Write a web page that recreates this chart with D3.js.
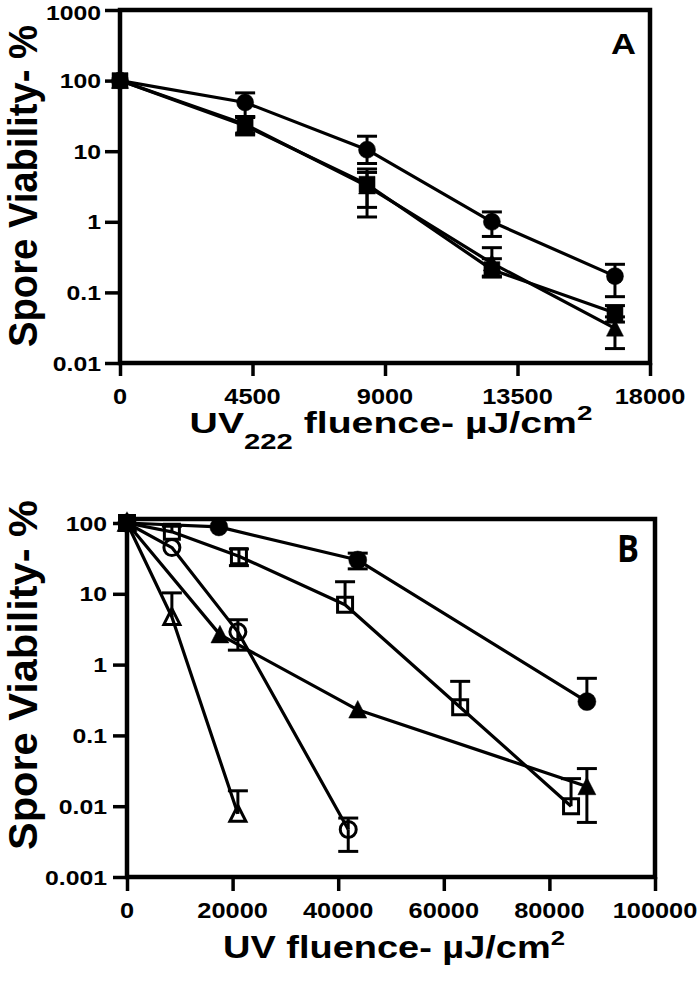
<!DOCTYPE html>
<html><head><meta charset="utf-8">
<script src="https://cdn.jsdelivr.net/npm/d3@7"></script>
<style>html,body{margin:0;padding:0;background:#fff;}svg{display:block;}</style>
</head><body>
<svg id="chart" width="700" height="984"></svg>
<script>
// ---------------- DATA ----------------
// Panel A (UV222)
const A_fluence = [0, 4250, 8390, 12630, 16810];
const A_circle     = [100, 49, 10.5, 1.0, 0.17];
const A_circleHi   = [null, 67, 16.3, 1.38, 0.25];
const A_circleLo   = [null, 31, 6.7, 0.62, 0.087];
const A_square     = [100, 23, 3.4, 0.21, 0.051];
const A_squareHi   = [null, 31, 5.6, 0.30, 0.065];
const A_squareLo   = [null, 17, 1.17, 0.165, 0.038];
const A_triangle   = [100, 24, 3.2, 0.26, 0.031];
const A_triangleHi = [null, 30, 5.0, 0.43, 0.045];
const A_triangleLo = [null, 18, 1.6, 0.17, 0.016];
const A_xTicks = [0, 4500, 9000, 13500, 18000];
const A_xTickLabels = ["0", "4500", "9000", "13500", "18000"];
const A_yTicks = [0.01, 0.1, 1, 10, 100, 1000];
const A_yTickLabels = ["0.01", "0.1", "1", "10", "100", "1000"];

// Panel B (UV)
const B_fillCircleX  = [0, 17400, 43700, 87100];
const B_fillCircle   = [100, 88, 30, 0.30];
const B_fillCircleHi = [null, null, 37.5, 0.64];
const B_fillCircleLo = [null, null, 22.5, null];
const B_openSquareX  = [0, 8500, 21200, 41300, 63100, 84100];
const B_openSquare   = [100, 75, 34, 7.0, 0.25, 0.010];
const B_openSquareHi = [null, 90, 43, 14.8, 0.58, 0.0245];
const B_openSquareLo = [null, null, 25, null, null, null];
const B_openCircleX  = [0, 8500, 21000, 41900];
const B_openCircle   = [100, 45, 2.9, 0.0047];
const B_openCircleHi = [null, null, 4.3, 0.0068];
const B_openCircleLo = [null, null, 1.6, 0.0023];
const B_openTriX     = [0, 8500, 21000];
const B_openTri      = [100, 4.7, 0.0078];
const B_openTriHi    = [null, 10.3, 0.0165];
const B_openTriLo    = [null, null, null];
const B_fillTriX     = [0, 17600, 43700, 87100];
const B_fillTri      = [100, 2.65, 0.23, 0.019];
const B_fillTriHi    = [null, null, null, 0.034];
const B_fillTriLo    = [null, null, null, 0.0059];
const B_xTicks = [0, 20000, 40000, 60000, 80000, 100000];
const B_xTickLabels = ["0", "20000", "40000", "60000", "80000", "100000"];
const B_yTicks = [0.001, 0.01, 0.1, 1, 10, 100];
const B_yTickLabels = ["0.001", "0.01", "0.1", "1", "10", "100"];

// ---------------- DRAW ----------------
const FONT = "'Liberation Sans', Arial, Helvetica, sans-serif";
const svg = d3.select("#chart");
svg.append("rect").attr("width", 700).attr("height", 984).attr("fill", "#fff");

function pts(xs, ys, hi, lo) {
  return xs.map((x, i) => ({x, y: ys[i], hi: hi ? hi[i] : null, lo: lo ? lo[i] : null}));
}

function markerPath(type, s) {
  const h = s / 2;
  if (type === "square") return `M${-h},${-h}H${h}V${h}H${-h}Z`;
  if (type === "triangle") { const th = s * 0.92; return `M0,${-th/2 - 1}L${h},${th/2}L${-h},${th/2}Z`; }
  return `M${h},0A${h},${h} 0 1,1 ${-h},0A${h},${h} 0 1,1 ${h},0Z`;
}

function txt(g, str, x, y, size, anchor, sx, family) {
  return g.append("text")
    .attr("transform", `translate(${x},${y}) scale(${sx},1)`)
    .attr("text-anchor", anchor)
    .attr("font-family", family || FONT)
    .attr("font-weight", "bold")
    .attr("font-size", size)
    .attr("fill", "#000")
    .text(str);
}
function fitWidth(sel, x, y, target) {
  const w = sel.node().getBBox().width;
  sel.attr("transform", `translate(${x},${y}) scale(${target / w},1)`);
}

function panel(cfg) {
  const g = svg.append("g");
  const x = d3.scaleLinear().domain(cfg.xDomain).range([cfg.left, cfg.right]);
  const y = d3.scaleLog().domain(cfg.yDomain).range([cfg.bottom, cfg.yTopVal]);

  const ya = g.append("g").attr("transform", `translate(${cfg.left},0)`)
    .call(d3.axisLeft(y).tickValues(cfg.yTicks).tickSize(cfg.yTickLen).tickSizeOuter(0).tickFormat(""));
  const xa = g.append("g").attr("transform", `translate(0,${cfg.bottom})`)
    .call(d3.axisBottom(x).tickValues(cfg.xTicks).tickSize(cfg.xTickLen).tickSizeOuter(0).tickFormat(""));
  [ya, xa].forEach(a => {
    a.select(".domain").remove();
    a.selectAll(".tick line").attr("stroke", "#000").attr("stroke-width", 3.5);
  });

  g.append("rect").attr("x", cfg.left).attr("y", cfg.frameTop)
    .attr("width", cfg.right - cfg.left).attr("height", cfg.bottom - cfg.frameTop)
    .attr("fill", "none").attr("stroke", "#000").attr("stroke-width", 4.5);

  cfg.yTicks.forEach((v, i) => txt(g, cfg.yTickLabels[i], cfg.yLabelRight, Math.max(y(v) + 7.5, 19.5), 21, "end", 1.18));
  cfg.xTicks.forEach((v, i) => txt(g, cfg.xTickLabels[i], x(v), cfg.xLabelBase, 21.5, "middle", 1.18));

  const line = d3.line().x(d => x(d.x)).y(d => y(d.y));
  cfg.series.forEach(s => {
    g.append("path").attr("d", line(s.data)).attr("fill", "none")
      .attr("stroke", "#000").attr("stroke-width", 3.2).attr("stroke-linejoin", "round");
  });
  cfg.series.forEach(s => {
    s.data.forEach(d => {
      const cx = x(d.x), half = 10;
      [d.hi, d.lo].forEach(b => {
        if (b == null) return;
        g.append("line").attr("x1", cx).attr("x2", cx).attr("y1", y(d.y)).attr("y2", y(b))
          .attr("stroke", "#000").attr("stroke-width", 3);
        g.append("line").attr("x1", cx - half).attr("x2", cx + half).attr("y1", y(b)).attr("y2", y(b))
          .attr("stroke", "#000").attr("stroke-width", 3);
      });
    });
  });
  cfg.series.forEach(s => {
    g.selectAll(null).data(s.data).enter().append("path")
      .attr("transform", d => `translate(${x(d.x)},${y(d.y)})`)
      .attr("d", markerPath(s.shape, s.open ? s.size - 3 : s.size))
      .attr("fill", s.open ? "none" : "#000")
      .attr("stroke", "#000").attr("stroke-width", s.open ? 3 : 0.5);
  });

  const yt = g.append("g").attr("transform", `translate(${cfg.yTitleX},${cfg.yTitleY}) rotate(-90)`);
  const ytt = yt.append("text").attr("text-anchor", "middle").attr("font-family", FONT)
    .attr("font-weight", "bold").attr("font-size", 41).text("Spore Viability- %");
  fitWidth(ytt, 0, 0, cfg.yTitleLen);

  const xt = g.append("text").attr("text-anchor", "middle").attr("font-family", FONT)
    .attr("font-weight", "bold").attr("font-size", cfg.xTitleSize);
  cfg.xTitleParts.forEach(p => {
    const t = xt.append("tspan").text(p.t);
    if (p.size) t.attr("font-size", p.size);
    if (p.dy) t.attr("dy", p.dy);
  });
  fitWidth(xt, cfg.xTitleX, cfg.xTitleBase, cfg.xTitleW);

  const pl = g.append("text").attr("text-anchor", "end").attr("font-family", cfg.letterFont)
    .attr("font-weight", "bold").attr("font-size", cfg.letterSize).text(cfg.letter);
  const w = pl.node().getBBox().width;
  pl.attr("transform", `translate(${cfg.letterRight},${cfg.letterBase}) scale(${cfg.letterW / w},1)`);
}

panel({
  xDomain: [0, 18000], yDomain: [0.01, 1000],
  left: 120, right: 650, bottom: 363, yTopVal: 10, frameTop: 10,
  xTicks: A_xTicks, xTickLabels: A_xTickLabels, yTicks: A_yTicks, yTickLabels: A_yTickLabels,
  yTickLen: 15, xTickLen: 13, yLabelRight: 101, xLabelBase: 404,
  series: [
    {shape: "circle", size: 17, data: pts(A_fluence, A_circle, A_circleHi, A_circleLo)},
    {shape: "triangle", size: 17, data: pts(A_fluence, A_triangle, A_triangleHi, A_triangleLo)},
    {shape: "square", size: 16, data: pts(A_fluence, A_square, A_squareHi, A_squareLo)}
  ],
  yTitleX: 37, yTitleY: 186, yTitleLen: 322,
  xTitleSize: 29.5,
  xTitleParts: [{t: "UV"}, {t: "222", size: 22, dy: 16}, {t: " fluence- µJ/cm", dy: -16}, {t: "2", size: 21, dy: -13}],
  xTitleX: 391, xTitleBase: 433, xTitleW: 403,
  letter: "A", letterFont: FONT, letterSize: 29, letterRight: 636, letterBase: 54, letterW: 25
});

panel({
  xDomain: [0, 100000], yDomain: [0.001, 100],
  left: 127, right: 655, bottom: 877, yTopVal: 523, frameTop: 519,
  xTicks: B_xTicks, xTickLabels: B_xTickLabels, yTicks: B_yTicks, yTickLabels: B_yTickLabels,
  yTickLen: 14, xTickLen: 14, yLabelRight: 107, xLabelBase: 918,
  series: [
    {shape: "circle", size: 18, data: pts(B_fillCircleX, B_fillCircle, B_fillCircleHi, B_fillCircleLo)},
    {shape: "square", size: 18, open: true, data: pts(B_openSquareX, B_openSquare, B_openSquareHi, B_openSquareLo)},
    {shape: "circle", size: 19, open: true, data: pts(B_openCircleX, B_openCircle, B_openCircleHi, B_openCircleLo)},
    {shape: "triangle", size: 19, open: true, data: pts(B_openTriX, B_openTri, B_openTriHi, B_openTriLo)},
    {shape: "triangle", size: 18, data: pts(B_fillTriX, B_fillTri, B_fillTriHi, B_fillTriLo)}
  ],
  yTitleX: 37, yTitleY: 675, yTitleLen: 350,
  xTitleSize: 31,
  xTitleParts: [{t: "UV fluence- µJ/cm"}, {t: "2", size: 21, dy: -13}],
  xTitleX: 394, xTitleBase: 958, xTitleW: 342,
  letter: "B", letterFont: "'Open Sans', " + FONT, letterSize: 37, letterRight: 639, letterBase: 562, letterW: 22
});
</script>
</body></html>
